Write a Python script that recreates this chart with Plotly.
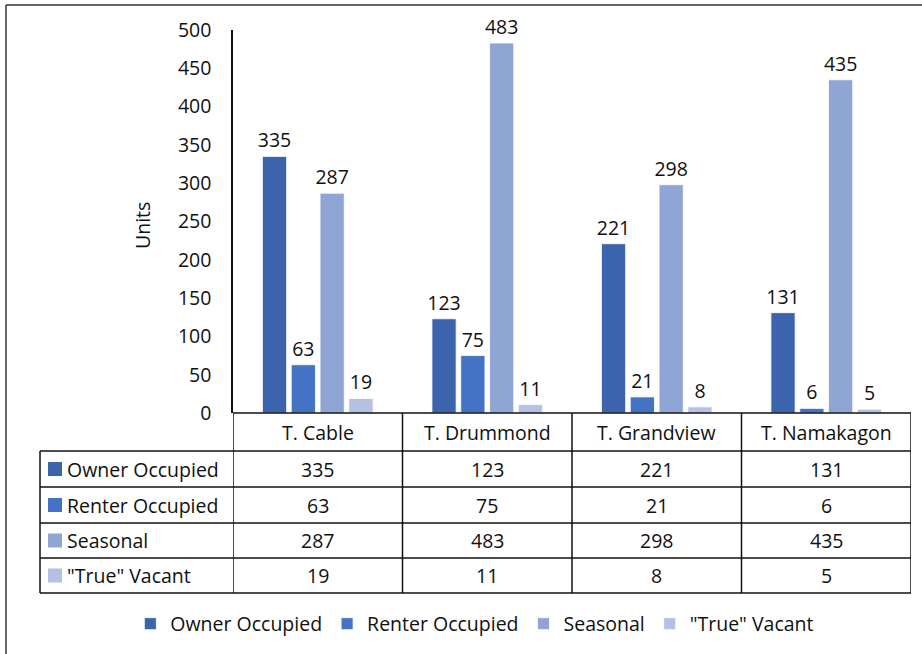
import plotly.graph_objects as go

W, H = 922, 654

towns = ['T. Cable', 'T. Drummond', 'T. Grandview', 'T. Namakagon']
series = ['Owner Occupied', 'Renter Occupied', 'Seasonal', '"True" Vacant']
owner = [335, 123, 221, 131]
renter = [63, 75, 21, 6]
seasonal = [287, 483, 298, 435]
vacant = [19, 11, 8, 5]
colors = ['#3C64AC', '#4472C4', '#8FA5D4', '#B4C1E3']

values = [owner, renter, seasonal, vacant]
FONT = 'Open Sans'
FS = 19.5
TXT = '#111111'


def px(x):
    return x / W


def py(y):
    return 1 - y / H


fig = go.Figure()
for name, vals, col in zip(series, values, colors):
    fig.add_trace(go.Bar(
        x=list(range(len(towns))), y=vals, name=name,
        marker=dict(color=col, line=dict(color='white', width=0.8)),
        text=[str(v) for v in vals], textposition='outside', constraintext='none',
        textfont=dict(size=FS, color=TXT, family=FONT),
        cliponaxis=False,
    ))

# data table geometry (pixel rows)
row_y = [413, 451, 487, 523, 558, 593]
line_col = '#111111'
lw = 1.5
shapes = []
# horizontal lines
shapes.append(dict(type='line', xref='paper', yref='paper', x0=px(233), x1=px(911),
                   y0=py(row_y[0]), y1=py(row_y[0]), line=dict(color=line_col, width=lw)))
for ry in row_y[1:]:
    shapes.append(dict(type='line', xref='paper', yref='paper', x0=px(40), x1=px(911),
                       y0=py(ry), y1=py(ry), line=dict(color=line_col, width=lw)))
# vertical lines
shapes.append(dict(type='line', xref='paper', yref='paper', x0=px(40), x1=px(40),
                   y0=py(row_y[1]), y1=py(row_y[-1]), line=dict(color=line_col, width=lw)))
for i in range(len(towns) + 1):
    shapes.append(dict(type='line', xref='x', yref='paper', x0=i - 0.5, x1=i - 0.5,
                       y0=py(row_y[0]), y1=py(row_y[-1]), line=dict(color=line_col, width=lw)))
# outer frame (left + top)
shapes.append(dict(type='line', xref='paper', yref='paper', x0=px(6), x1=px(6),
                   y0=py(5), y1=0, line=dict(color='#333333', width=1.5)))
shapes.append(dict(type='line', xref='paper', yref='paper', x0=px(6), x1=1,
                   y0=py(5), y1=py(5), line=dict(color='#333333', width=1.5)))

annotations = []
for i, t in enumerate(towns):
    annotations.append(dict(x=i, y=py((row_y[0] + row_y[1]) / 2), xref='x', yref='paper',
                            xanchor='center', yanchor='middle',
                            text=t, showarrow=False, font=dict(size=FS, color=TXT, family=FONT)))
for r, (name, vals, col) in enumerate(zip(series, values, colors)):
    yc = py((row_y[r + 1] + row_y[r + 2]) / 2)
    shapes.append(dict(type='rect', xref='paper', yref='paper', x0=px(48), x1=px(62),
                       y0=yc - 7 / H, y1=yc + 7 / H, fillcolor=col, line=dict(width=0)))
    annotations.append(dict(x=px(65), y=yc, xref='paper', yref='paper', xanchor='left', yanchor='middle',
                            text=name, showarrow=False, font=dict(size=FS, color=TXT, family=FONT)))
    for i, v in enumerate(vals):
        annotations.append(dict(x=i, y=yc, xref='x', yref='paper', xanchor='center', yanchor='middle',
                                text=str(v), showarrow=False,
                                font=dict(size=FS, color=TXT, family=FONT)))

annotations.append(dict(x=px(142), y=py(226), xref='paper', yref='paper', text='Units', textangle=-90,
                        xanchor='center', yanchor='middle',
                        showarrow=False, font=dict(size=FS, color=TXT, family=FONT)))

fig.update_layout(
    width=W, height=H, autosize=False,
    margin=dict(l=0, r=0, t=0, b=0, pad=0, autoexpand=False),
    paper_bgcolor='white', plot_bgcolor='white',
    barmode='group', bargap=0.32, bargroupgap=0.16,
    font=dict(family=FONT, size=FS, color=TXT),
    xaxis=dict(domain=[px(233), px(911)], range=[-0.5, 3.5], showticklabels=False, automargin=False,
               showgrid=False, zeroline=False, showline=False, fixedrange=True),
    yaxis=dict(domain=[py(413), py(30)], range=[0, 500], dtick=50, showgrid=False, automargin=False,
               zeroline=False, showline=True, linecolor='#111111', linewidth=1.5,
               ticks='', ticklabelstandoff=16, tickfont=dict(size=FS, color=TXT, family=FONT)),
    legend=dict(orientation='h', x=0.515, xanchor='center', y=py(624), yanchor='middle',
                font=dict(size=FS, color=TXT, family=FONT), itemwidth=30,
                traceorder='normal'),
    shapes=shapes, annotations=annotations,
    showlegend=True,
)

fig.write_html('out.html', config={'displayModeBar': False},
               post_script="document.body.style.margin='0';")
